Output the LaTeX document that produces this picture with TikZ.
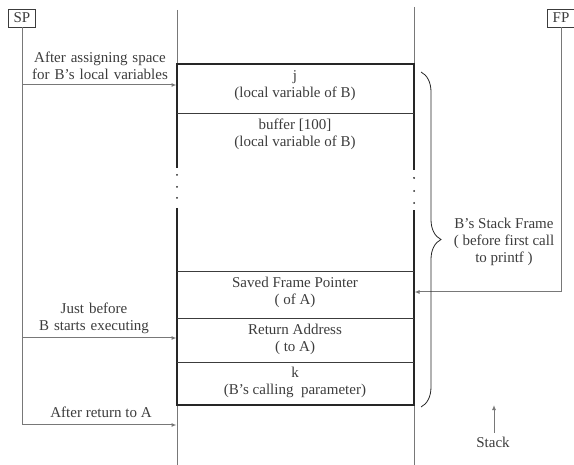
\documentclass[tikz,border=0pt]{standalone}
\usepackage{fontspec}
\setmainfont{Liberation Serif}
\usepackage{xcolor}
\usetikzlibrary{arrows.meta,decorations.pathreplacing}

\definecolor{inkgray}{RGB}{60,60,60}
\definecolor{linegray}{RGB}{120,120,120}

\tikzset{
  txt/.style={text=inkgray, align=center, inner sep=0pt, font=\fontsize{15}{17}\selectfont},
  reg/.style={draw=inkgray, text=inkgray, inner sep=2pt, minimum width=27pt, minimum height=18pt, font=\fontsize{15}{15}\selectfont},
  wire/.style={draw=linegray, line width=1pt},
  ptr/.style={wire, -{Latex[length=5pt,width=4pt]}, shorten >=0.5pt},
  frame/.style={line width=1.8pt, draw=black!85},
  cut/.style={draw=inkgray, line width=0.7pt}
}

\begin{document}
\begin{tikzpicture}[x=1pt,y=-1pt]
        \useasboundingbox (0,0) rectangle (574,465);
        % stack boundaries
        \draw [wire] (177,10) -- (177,64);
        \draw [wire] (177,405) -- (177,465);
        \draw [wire] (414,7) -- (414,64);
        \draw [wire] (414,405) -- (414,465);
        % B's frame
        \draw [frame] (177,168) -- (177,64) -- (414,64) -- (414,170);
        \draw [frame] (177,208) -- (177,405) -- (414,405) -- (414,210);
        \foreach \y in {175,187,198} \fill [black!85] (177,\y) circle (1pt);
        \foreach \y in {178,191,203} \fill [black!85] (414,\y) circle (1pt);
        \draw [cut] (177,113) -- (414,113);
        \draw [cut] (177,271) -- (414,271);
        \draw [cut] (177,318) -- (414,318);
        \draw [cut] (177,362) -- (414,362);
        % cells
        \node [txt] (cellj) at (295,86) {j\\(local variable of B)};
        \node [txt] (cellbuf) at (295,134) {buffer [100]\\(local variable of B)};
        \node [txt] (cellsfp) at (295,292) {Saved Frame Pointer\\( of A)};
        \node [txt] (cellret) at (295,339) {Return Address\\( to A)};
        \node [txt] (cellk) at (295,382) {k\\(B’s calling\ \ parameter)};
        % stack pointer
        \node [reg] (sp) at (22,18) {SP};
        \coordinate (spa) at (22,85);
        \coordinate (spb) at (22,338);
        \coordinate (spc) at (22,425);
        \coordinate (ta) at (177,85);
        \coordinate (tb) at (177,338);
        \coordinate (tc) at (177,425);
        \draw [wire] (sp.south) -- (spc);
        \draw [ptr] (spa) -- (ta);
        \draw [ptr] (spb) -- (tb);
        \draw [ptr] (spc) -- (tc);
        \node [txt, text width=160pt] (lbla) at (100,65.5) {After assigning space\\for B’s local variables};
        \node [txt, text width=160pt] (lblb) at (94,318) {Just before\\B starts executing};
        \node [txt] (lblc) at (101,412) {After return to A};
        % frame pointer
        \node [reg] (fp) at (561,18) {FP};
        \coordinate (fpa) at (561,292);
        \coordinate (tfp) at (414,292);
        \draw [wire] (fp.south) -- (fpa);
        \draw [ptr] (fpa) -- (tfp);
        % brace
        \draw [black!85, line width=0.8pt, decorate, decoration={brace, amplitude=20pt}] (421,72) -- (421,407);
        \node [txt] (frm) at (504,242) {B’s Stack Frame\\( before first call\\to printf )};
        % growth
        \node [txt] (stk) at (493,442) {Stack};
        \draw [ptr] (stk.north) ++(1,-4) coordinate (stkb) -- ++(0,-28) coordinate (stkt);
        \end{tikzpicture}
\end{document}
